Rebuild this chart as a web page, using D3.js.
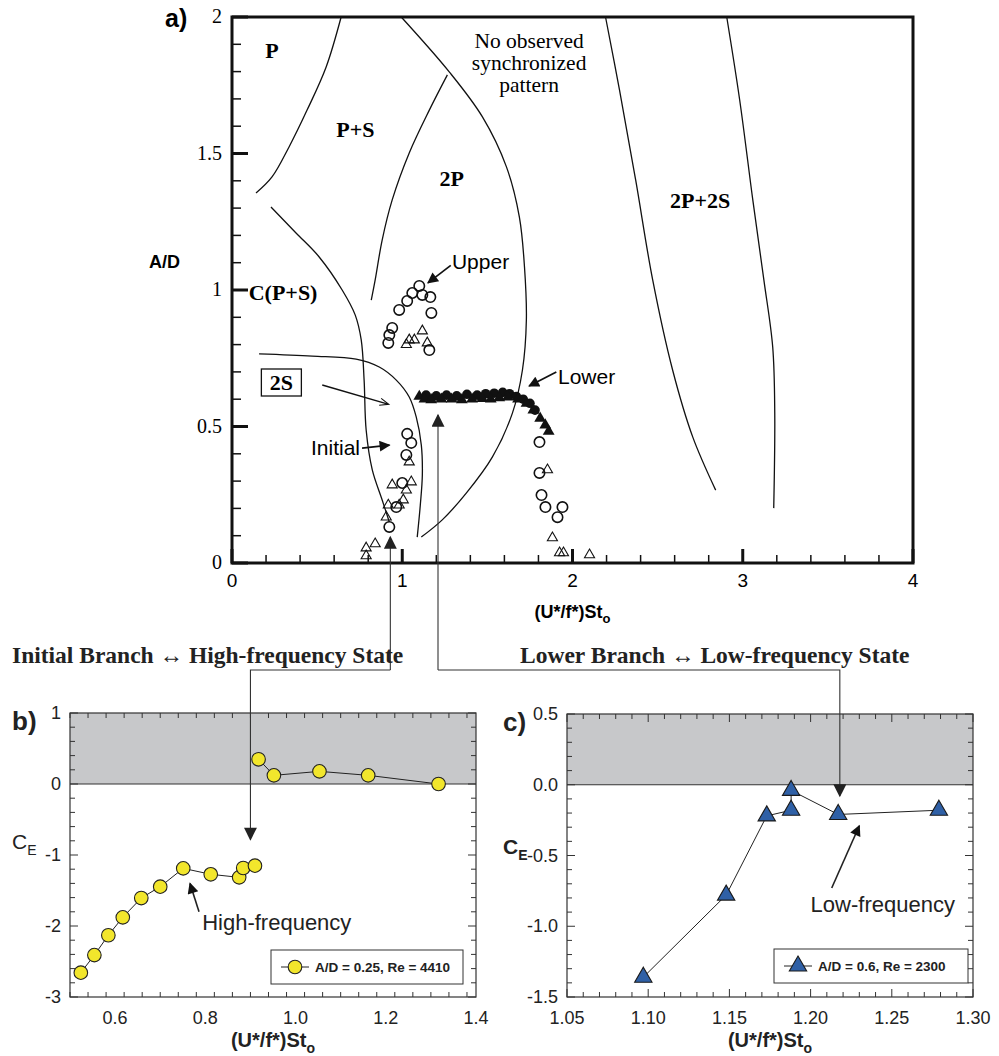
<!DOCTYPE html>
<html>
<head>
<meta charset="utf-8">
<script src="https://cdn.jsdelivr.net/npm/d3@7/dist/d3.min.js"></script>
<style>
body { margin: 0; background: #fff; }
svg { display: block; }
</style>
</head>
<body>
<div id="fig"></div>
<script>
/////////// panel a: vortex mode map ///////////

// boundary curves, [x, A/D]
var curvePtoPS = [[0.641, 2.0], [0.553, 1.817], [0.441, 1.659], [0.335, 1.524], [0.235, 1.414], [0.141, 1.355]];
var curveCPS = [[0.229, 1.304], [0.376, 1.209], [0.512, 1.121], [0.647, 1.0], [0.724, 0.908], [0.759, 0.817], [0.776, 0.670], [0.788, 0.487], [0.824, 0.341], [0.882, 0.231], [0.924, 0.150]];
var curve2S = [[0.159, 0.766], [0.471, 0.758], [0.729, 0.747], [0.865, 0.718], [0.965, 0.670], [1.041, 0.608], [1.082, 0.535], [1.112, 0.432], [1.118, 0.322], [1.106, 0.212], [1.088, 0.095]];
var curve2P = [[1.265, 1.788], [1.159, 1.659], [1.041, 1.502], [0.941, 1.330], [0.882, 1.183], [0.841, 1.037], [0.818, 0.963]];
var curveNoSync = [[0.994, 2.0], [1.276, 1.799], [1.471, 1.634], [1.612, 1.451], [1.688, 1.267], [1.718, 1.084], [1.729, 0.890], [1.706, 0.707], [1.647, 0.549], [1.529, 0.388], [1.376, 0.256], [1.235, 0.158], [1.112, 0.095]];
var curve2P2Sa = [[2.194, 2.0], [2.276, 1.733], [2.371, 1.403], [2.471, 1.037], [2.588, 0.707], [2.706, 0.462], [2.841, 0.267]];
var curve2P2Sb = [[2.906, 2.0], [2.982, 1.696], [3.059, 1.330], [3.124, 1.037], [3.176, 0.791], [3.188, 0.549], [3.182, 0.201]];
var boundaries = [curvePtoPS, curveCPS, curve2S, curve2P, curveNoSync, curve2P2Sa, curve2P2Sb];

// response data, [x, A/D]
var openCircles = [[1.10, 1.015], [1.059, 0.989], [1.029, 0.960], [0.982, 0.927], [1.118, 0.982], [1.165, 0.974], [1.171, 0.916], [0.941, 0.861], [0.924, 0.835], [0.918, 0.806], [1.159, 0.780],
  [1.029, 0.473], [1.053, 0.440], [1.024, 0.396], [1.0, 0.293], [0.965, 0.205], [0.924, 0.132],
  [1.806, 0.443], [1.806, 0.330], [1.818, 0.249], [1.841, 0.205], [1.941, 0.205], [1.912, 0.168]];
var openTriangles = [[1.118, 0.850], [1.024, 0.800], [1.071, 0.817], [1.147, 0.806], [1.041, 0.817],
  [1.041, 0.370], [1.053, 0.297], [0.941, 0.286], [1.024, 0.267], [1.006, 0.231], [0.982, 0.212], [0.918, 0.212], [0.906, 0.168], [0.841, 0.070], [0.788, 0.055], [0.788, 0.026],
  [1.853, 0.341], [1.882, 0.092], [1.924, 0.037], [1.947, 0.037], [2.10, 0.030]];
var lowerCircleX = [1.14, 1.20, 1.26, 1.32, 1.38, 1.44, 1.49, 1.54, 1.59, 1.63, 1.67, 1.71, 1.75, 1.78];
var lowerCircleY = [0.615, 0.612, 0.615, 0.612, 0.618, 0.615, 0.620, 0.622, 0.625, 0.620, 0.610, 0.600, 0.585, 0.560];
var lowerTriX = [1.10, 1.13, 1.17, 1.23, 1.29, 1.35, 1.41, 1.47, 1.52, 1.57, 1.62, 1.68, 1.73, 1.77, 1.81, 1.84, 1.86];
var lowerTriY = [0.610, 0.600, 0.598, 0.600, 0.600, 0.598, 0.600, 0.602, 0.600, 0.605, 0.608, 0.600, 0.585, 0.560, 0.530, 0.505, 0.482];

var aXTicks = [0, 1, 2, 3, 4];
var aYTicks = [0, 0.5, 1, 1.5, 2];

/////////// panels b and c: energy transfer ///////////
var bX = [0.524, 0.554, 0.585, 0.617, 0.658, 0.700, 0.751, 0.812, 0.875, 0.884, 0.910];
var bY = [-2.657, -2.41, -2.13, -1.878, -1.606, -1.446, -1.188, -1.272, -1.315, -1.183, -1.15];
var bX2 = [0.918, 0.952, 1.053, 1.161, 1.317];
var bY2 = [0.348, 0.122, 0.178, 0.122, 0.0];
var bXTicks = [0.6, 0.8, 1.0, 1.2, 1.4];
var bYTicks = [-3, -2, -1, 0, 1];

var cX = [1.097, 1.148, 1.173, 1.188, 1.188, 1.217, 1.279];
var cY = [-1.36, -0.78, -0.22, -0.18, -0.04, -0.21, -0.18];
var cXTicks = [1.05, 1.10, 1.15, 1.20, 1.25, 1.30];
var cYTicks = [-1.5, -1.0, -0.5, 0.0, 0.5];

var SANS = "'Liberation Sans', Arial, sans-serif";
var SERIF = "'Liberation Serif', 'Times New Roman', serif";

var svg = d3.select('#fig').append('svg')
  .attr('width', 999)
  .attr('height', 1056);

var defs = svg.append('defs');
defs.append('marker').attr('id', 'headA')
  .attr('viewBox', '0 0 10 10').attr('refX', 9).attr('refY', 5)
  .attr('markerWidth', 15).attr('markerHeight', 11).attr('markerUnits', 'userSpaceOnUse')
  .attr('orient', 'auto')
  .append('path').attr('d', 'M0,0 L10,5 L0,10 Z').attr('fill', '#111');
defs.append('marker').attr('id', 'headOpen')
  .attr('viewBox', '0 0 10 10').attr('refX', 9).attr('refY', 5)
  .attr('markerWidth', 18).attr('markerHeight', 9).attr('markerUnits', 'userSpaceOnUse')
  .attr('orient', 'auto')
  .append('path').attr('d', 'M0,1 L10,5 L0,9').attr('fill', 'none').attr('stroke', '#111').attr('stroke-width', 1.2);
defs.append('marker').attr('id', 'headLink')
  .attr('viewBox', '0 0 10 10').attr('refX', 9).attr('refY', 5)
  .attr('markerWidth', 18).attr('markerHeight', 13).attr('markerUnits', 'userSpaceOnUse')
  .attr('orient', 'auto')
  .append('path').attr('d', 'M0,0 L10,5 L0,10 Z').attr('fill', '#222');

//MarK: panel a
var aMargin = { left: 232, top: 17 };
var aWidth = 681, aHeight = 546;
var xA = d3.scaleLinear().domain([0, 4]).range([0, aWidth]);
var yA = d3.scaleLinear().domain([0, 2]).range([aHeight, 0]);

var ga = svg.append('g').attr('transform', 'translate(' + aMargin.left + ',' + aMargin.top + ')');

var boundaryLine = d3.line()
  .x(function(d) { return xA(d[0]); })
  .y(function(d) { return yA(d[1]); })
  .curve(d3.curveCatmullRom.alpha(0.5));

ga.selectAll('.bound')
  .data(boundaries)
  .enter().append('path')
  .attr('class', 'bound')
  .attr('d', boundaryLine)
  .attr('fill', 'none')
  .attr('stroke', '#111')
  .attr('stroke-width', 1.3);

// ticks (inward), minor every 0.2 on x, 0.1 on y
ga.selectAll('.xtick')
  .data(d3.range(0, 41, 2).map(function(v) { return v / 10; }))
  .enter().append('line')
  .attr('x1', function(d) { return xA(d); })
  .attr('x2', function(d) { return xA(d); })
  .attr('y1', aHeight)
  .attr('y2', function(d) { return aXTicks.indexOf(d) >= 0 ? aHeight - 14 : aHeight - 8; })
  .attr('stroke', '#111')
  .attr('stroke-width', function(d) { return aXTicks.indexOf(d) >= 0 ? 3 : 1.5; });

ga.selectAll('.ytick')
  .data(d3.range(0, 21).map(function(v) { return v / 10; }))
  .enter().append('line')
  .attr('y1', function(d) { return yA(d); })
  .attr('y2', function(d) { return yA(d); })
  .attr('x1', 0)
  .attr('x2', function(d) { return aYTicks.indexOf(d) >= 0 ? 16 : 9; })
  .attr('stroke', '#111')
  .attr('stroke-width', function(d) { return aYTicks.indexOf(d) >= 0 ? 3 : 1.5; });

ga.append('rect')
  .attr('width', aWidth).attr('height', aHeight)
  .attr('fill', 'none').attr('stroke', '#111').attr('stroke-width', 3);

ga.selectAll('.xlab')
  .data(aXTicks)
  .enter().append('text')
  .attr('x', function(d) { return xA(d); })
  .attr('y', aHeight + 24)
  .attr('text-anchor', 'middle')
  .attr('font-family', SANS).attr('font-size', 19)
  .text(function(d) { return d; });

ga.selectAll('.ylab')
  .data(aYTicks)
  .enter().append('text')
  .attr('x', -10)
  .attr('y', function(d) { return yA(d) + 6; })
  .attr('text-anchor', 'end')
  .attr('font-family', SERIF).attr('font-size', 20)
  .text(function(d) { return d; });

// data markers
ga.selectAll('.oc')
  .data(openCircles)
  .enter().append('circle')
  .attr('cx', function(d) { return xA(d[0]); })
  .attr('cy', function(d) { return yA(d[1]); })
  .attr('r', 5.2)
  .attr('fill', 'none').attr('stroke', '#111').attr('stroke-width', 1.6);

var triSmall = d3.symbol().type(d3.symbolTriangle).size(44);
ga.selectAll('.ot')
  .data(openTriangles)
  .enter().append('path')
  .attr('d', triSmall)
  .attr('transform', function(d) { return 'translate(' + xA(d[0]) + ',' + yA(d[1]) + ')'; })
  .attr('fill', 'none').attr('stroke', '#111').attr('stroke-width', 1.1);

ga.selectAll('.fc')
  .data(lowerCircleX)
  .enter().append('circle')
  .attr('cx', function(d) { return xA(d); })
  .attr('cy', function(d, i) { return yA(lowerCircleY[i]); })
  .attr('r', 4.8)
  .attr('fill', '#111');

ga.selectAll('.ft')
  .data(lowerTriX)
  .enter().append('path')
  .attr('d', d3.symbol().type(d3.symbolTriangle).size(60))
  .attr('transform', function(d, i) { return 'translate(' + xA(d) + ',' + yA(lowerTriY[i]) + ')'; })
  .attr('fill', '#111');

// region labels
var regionLabels = [
  { t: 'P', x: 0.235, y: 1.85 },
  { t: 'P+S', x: 0.725, y: 1.56 },
  { t: '2P', x: 1.29, y: 1.38 },
  { t: '2P+2S', x: 2.75, y: 1.30 },
  { t: 'C(P+S)', x: 0.30, y: 0.965 }
];
ga.selectAll('.reg')
  .data(regionLabels)
  .enter().append('text')
  .attr('x', function(d) { return xA(d.x); })
  .attr('y', function(d) { return yA(d.y); })
  .attr('text-anchor', 'middle')
  .attr('font-family', SERIF).attr('font-weight', 'bold').attr('font-size', 22)
  .text(function(d) { return d.t; });

var noSync = ga.append('text')
  .attr('text-anchor', 'middle')
  .attr('font-family', SERIF).attr('font-size', 21.5);
['No observed', 'synchronized', 'pattern'].forEach(function(s, i) {
  noSync.append('tspan').attr('x', xA(1.745)).attr('y', yA(1.885) + i * 22).text(s);
});

// 2S boxed label
ga.append('rect')
  .attr('x', xA(0.29) - 20).attr('y', yA(0.663) - 13)
  .attr('width', 40).attr('height', 27)
  .attr('fill', '#fff').attr('stroke', '#111').attr('stroke-width', 1.3);
ga.append('text')
  .attr('x', xA(0.29)).attr('y', yA(0.663) + 8)
  .attr('text-anchor', 'middle')
  .attr('font-family', SERIF).attr('font-weight', 'bold').attr('font-size', 22)
  .text('2S');

// branch annotations
var branchNotes = [
  { t: 'Upper', tx: 1.292, ty: 1.103, anchor: 'start', from: [1.285, 1.09], to: [1.151, 1.026] },
  { t: 'Lower', tx: 1.915, ty: 0.681, anchor: 'start', from: [1.905, 0.70], to: [1.745, 0.648] },
  { t: 'Initial', tx: 0.752, ty: 0.421, anchor: 'end', from: [0.764, 0.421], to: [0.925, 0.432] }
];
ga.selectAll('.bnote')
  .data(branchNotes)
  .enter().append('text')
  .attr('x', function(d) { return xA(d.tx); })
  .attr('y', function(d) { return yA(d.ty) + 7; })
  .attr('text-anchor', function(d) { return d.anchor; })
  .attr('font-family', SANS).attr('font-size', 21)
  .text(function(d) { return d.t; });
ga.selectAll('.barrow')
  .data(branchNotes)
  .enter().append('line')
  .attr('x1', function(d) { return xA(d.from[0]); })
  .attr('y1', function(d) { return yA(d.from[1]); })
  .attr('x2', function(d) { return xA(d.to[0]); })
  .attr('y2', function(d) { return yA(d.to[1]); })
  .attr('stroke', '#111').attr('stroke-width', 1.7)
  .attr('marker-end', 'url(#headA)');

ga.append('line')
  .attr('x1', xA(0.53)).attr('y1', yA(0.652))
  .attr('x2', xA(0.916)).attr('y2', yA(0.582))
  .attr('stroke', '#111').attr('stroke-width', 1.4)
  .attr('marker-end', 'url(#headOpen)');

svg.append('text')
  .attr('x', 165).attr('y', 27)
  .attr('font-family', SANS).attr('font-weight', 'bold').attr('font-size', 25)
  .text('a)');

svg.append('text')
  .attr('x', 149).attr('y', 268)
  .attr('font-family', SANS).attr('font-weight', 'bold').attr('font-size', 18)
  .text('A/D');

var aTitle = svg.append('text')
  .attr('x', aMargin.left + xA(2)).attr('y', 618)
  .attr('text-anchor', 'middle')
  .attr('font-family', SANS).attr('font-weight', 'bold').attr('font-size', 18);
aTitle.append('tspan').text('(U*/f*)St');
aTitle.append('tspan').attr('font-size', 13).attr('dy', 5).text('o');

//MarK: panels b & c
function drawCE(opt) {
  var x = d3.scaleLinear().domain(opt.xDomain).range([0, opt.w]);
  var y = d3.scaleLinear().domain(opt.yDomain).range([opt.h, 0]);
  var g = svg.append('g').attr('transform', 'translate(' + opt.left + ',' + opt.top + ')');

  // positive (shaded) region
  g.append('rect')
    .attr('x', 0).attr('y', y(opt.yDomain[1]))
    .attr('width', opt.w).attr('height', y(0) - y(opt.yDomain[1]))
    .attr('fill', '#c7c8ca');
  g.append('line')
    .attr('x1', 0).attr('x2', opt.w)
    .attr('y1', y(0)).attr('y2', y(0))
    .attr('stroke', '#333').attr('stroke-width', 1);

  var xMinor = d3.range(opt.xDomain[0], opt.xDomain[1] + 1e-9, opt.xMinorStep);
  var yMinor = d3.range(opt.yDomain[0], opt.yDomain[1] + 1e-9, opt.yMinorStep);
  function isMajor(v, list) {
    return list.some(function(m) { return Math.abs(m - v) < 1e-6; });
  }
  [0, opt.h].forEach(function(edge) {
    var dir = edge === 0 ? 1 : -1;
    g.selectAll(null).data(xMinor).enter().append('line')
      .attr('x1', function(d) { return x(d); }).attr('x2', function(d) { return x(d); })
      .attr('y1', edge)
      .attr('y2', function(d) { return edge + dir * (isMajor(d, opt.xTicks) ? 8 : 5); })
      .attr('stroke', '#333').attr('stroke-width', 1);
  });
  [0, opt.w].forEach(function(edge) {
    var dir = edge === 0 ? 1 : -1;
    g.selectAll(null).data(yMinor).enter().append('line')
      .attr('y1', function(d) { return y(d); }).attr('y2', function(d) { return y(d); })
      .attr('x1', edge)
      .attr('x2', function(d) { return edge + dir * (isMajor(d, opt.yTicks) ? 8 : 5); })
      .attr('stroke', '#333').attr('stroke-width', 1);
  });

  g.append('rect')
    .attr('width', opt.w).attr('height', opt.h)
    .attr('fill', 'none').attr('stroke', '#333').attr('stroke-width', 1.2);

  g.selectAll('.xl').data(opt.xTicks).enter().append('text')
    .attr('x', function(d) { return x(d); })
    .attr('y', opt.h + 27)
    .attr('text-anchor', 'middle')
    .attr('font-family', SANS).attr('font-size', 18).attr('fill', '#222')
    .text(function(d) { return d.toFixed(opt.xDec); });
  g.selectAll('.yl').data(opt.yTicks).enter().append('text')
    .attr('x', -9)
    .attr('y', function(d) { return y(d) + 6; })
    .attr('text-anchor', 'end')
    .attr('font-family', SANS).attr('font-size', 18).attr('fill', '#222')
    .text(function(d) { return d.toFixed(opt.yDec); });

  var title = g.append('text')
    .attr('x', opt.w / 2).attr('y', opt.h + 50)
    .attr('text-anchor', 'middle')
    .attr('font-family', SANS).attr('font-weight', 'bold').attr('font-size', 20).attr('fill', '#222');
  title.append('tspan').text('(U*/f*)St');
  title.append('tspan').attr('font-size', 14).attr('dy', 6).text('o');

  var ce = g.append('text')
    .attr('x', opt.ceX).attr('y', y(opt.ceY) + 7)
    .attr('font-family', SANS).attr('font-size', 21).attr('fill', '#222')
    .attr('font-weight', opt.ceBold ? 'bold' : 'normal');
  ce.append('tspan').text('C');
  ce.append('tspan').attr('font-size', 14).attr('dy', 6).text('E');

  g.append('text')
    .attr('x', opt.labX).attr('y', 17)
    .attr('font-family', SANS).attr('font-weight', 'bold').attr('font-size', 26).attr('fill', '#222')
    .text(opt.label);

  var line = d3.line()
    .x(function(d) { return x(d[0]); })
    .y(function(d) { return y(d[1]); });
  opt.series.forEach(function(s) {
    var pts = s.xs.map(function(v, i) { return [v, s.ys[i]]; });
    g.append('path').attr('d', line(pts))
      .attr('fill', 'none').attr('stroke', '#222').attr('stroke-width', 1);
    opt.marker(g.selectAll(null).data(pts).enter(), x, y);
  });

  // annotation arrow
  g.append('line')
    .attr('x1', x(opt.note.from[0])).attr('y1', y(opt.note.from[1]))
    .attr('x2', x(opt.note.to[0])).attr('y2', y(opt.note.to[1]))
    .attr('stroke', '#222').attr('stroke-width', 1.6)
    .attr('marker-end', 'url(#headA)');
  g.append('text')
    .attr('x', x(opt.note.tx)).attr('y', y(opt.note.ty) + 7)
    .attr('font-family', SANS).attr('font-size', 22).attr('fill', '#222')
    .text(opt.note.t);

  // legend
  var lg = g.append('g').attr('transform', 'translate(' + opt.legX + ',' + opt.legY + ')');
  lg.append('rect').attr('width', opt.legW).attr('height', 34)
    .attr('fill', '#fff').attr('stroke', '#333').attr('stroke-width', 1);
  lg.append('line').attr('x1', 10).attr('x2', 38).attr('y1', 17).attr('y2', 17)
    .attr('stroke', '#222').attr('stroke-width', 1);
  opt.marker(lg.selectAll(null).data([0]).enter(), function() { return 24; }, function() { return 17; });
  lg.append('text').attr('x', 44).attr('y', 22)
    .attr('font-family', SANS).attr('font-weight', 'bold').attr('font-size', 13.5).attr('fill', '#222')
    .text(opt.legText);

  return { x: x, y: y };
}

var bScales = drawCE({
  left: 70, top: 713, w: 406, h: 284,
  xDomain: [0.5, 1.4], yDomain: [-3, 1],
  xTicks: bXTicks, yTicks: bYTicks, xMinorStep: 0.04, yMinorStep: 0.2,
  xDec: 1, yDec: 0,
  ceX: -58, ceY: -0.82, ceBold: false, label: 'b)', labX: -58,
  series: [{ xs: bX, ys: bY }, { xs: bX2, ys: bY2 }],
  marker: function(sel, x, y) {
    sel.append('circle')
      .attr('cx', function(d) { return x(d[0]); })
      .attr('cy', function(d) { return y(d[1]); })
      .attr('r', 6.8)
      .attr('fill', '#f2e62c').attr('stroke', '#222').attr('stroke-width', 1.1);
  },
  note: { t: 'High-frequency', tx: 0.793, ty: -1.96, from: [0.786, -1.80], to: [0.766, -1.40] },
  legX: 201, legY: 237, legW: 192, legText: 'A/D = 0.25, Re = 4410'
});

var cScales = drawCE({
  left: 567, top: 714, w: 406, h: 283,
  xDomain: [1.05, 1.30], yDomain: [-1.5, 0.5],
  xTicks: cXTicks, yTicks: cYTicks, xMinorStep: 0.01, yMinorStep: 0.1,
  xDec: 2, yDec: 1,
  ceX: -64, ceY: -0.44, ceBold: true, label: 'c)', labX: -64,
  series: [{ xs: cX, ys: cY }],
  marker: function(sel, x, y) {
    sel.append('path')
      .attr('d', d3.symbol().type(d3.symbolTriangle).size(130))
      .attr('transform', function(d) { return 'translate(' + x(d[0]) + ',' + y(d[1]) + ')'; })
      .attr('fill', '#2f60a6').attr('stroke', '#1a1a1a').attr('stroke-width', 1.1);
  },
  note: { t: 'Low-frequency', tx: 1.20, ty: -0.85, from: [1.213, -0.73], to: [1.230, -0.29] },
  legX: 207, legY: 235, legW: 194, legText: 'A/D = 0.6, Re = 2300'
});

//MarK: linking arrows between a and b/c
var linkY = 670;
var links = [
  { ax: 0.93, ay: 0.095, px: bScales.x(0.90) + 70, py: bScales.y(-0.78) + 713 },
  { ax: 1.21, ay: 0.542, px: cScales.x(1.218) + 567, py: cScales.y(-0.08) + 714 }
];
links.forEach(function(l) {
  var ax = aMargin.left + xA(l.ax);
  var ay = aMargin.top + yA(l.ay);
  svg.append('path')
    .attr('d', 'M' + ax + ',' + linkY + ' L' + ax + ',' + ay)
    .attr('fill', 'none').attr('stroke', '#333').attr('stroke-width', 1.1)
    .attr('marker-end', 'url(#headLink)');
  svg.append('path')
    .attr('d', 'M' + ax + ',' + linkY + ' L' + l.px + ',' + linkY + ' L' + l.px + ',' + l.py)
    .attr('fill', 'none').attr('stroke', '#333').attr('stroke-width', 1.1)
    .attr('marker-end', 'url(#headLink)');
});

svg.append('text')
  .attr('x', 12).attr('y', 663)
  .attr('font-family', SERIF).attr('font-weight', 'bold').attr('font-size', 23.5).attr('fill', '#222')
  .text('Initial Branch \u2194 High-frequency State');
svg.append('text')
  .attr('x', 520).attr('y', 663)
  .attr('font-family', SERIF).attr('font-weight', 'bold').attr('font-size', 23.5).attr('fill', '#222')
  .text('Lower Branch \u2194 Low-frequency State');
</script>
</body>
</html>
